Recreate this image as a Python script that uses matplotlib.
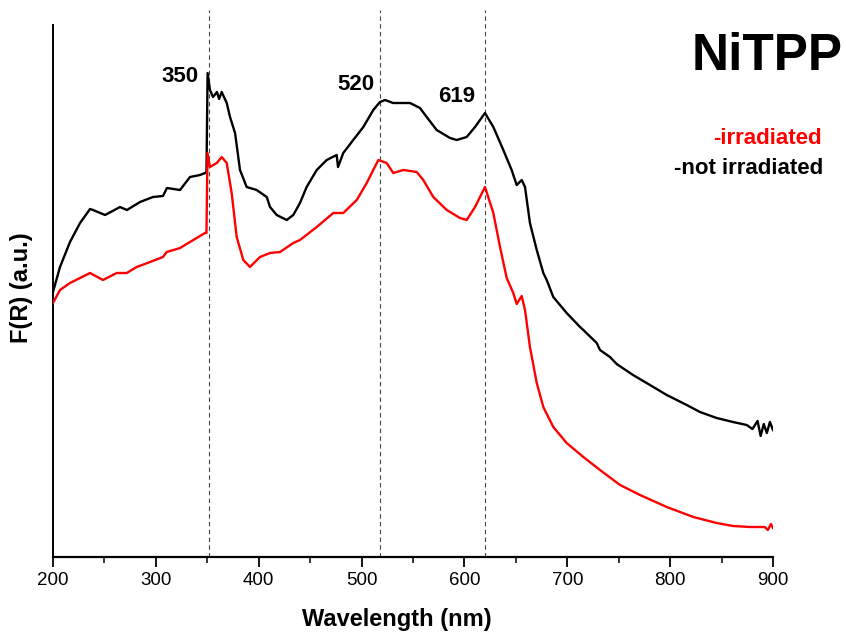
import matplotlib
matplotlib.use("Agg")
import matplotlib.pyplot as plt
from matplotlib.ticker import MultipleLocator

plt.rcParams['font.family'] = ['Liberation Sans', 'DejaVu Sans']

# wavelength (nm) and F(R) (a.u.)
wl_not = [200, 206.8, 216.5, 226.3, 236.0, 238.9, 250.6, 258.0, 265.1, 271.9,
          284.6, 297.2, 306.9, 310.8, 323.5, 333.2, 342.9, 347.8, 349.2, 350.3,
          352.6, 355.6, 359.4, 361.5, 364.0, 368.9, 372.1, 377.0, 381.8, 388.3,
          398.0, 407.8, 411.0, 417.5, 427.2, 433.6, 440.1, 446.6, 456.4, 466.1,
          475.8, 477.1, 482.2, 491.9, 501.7, 511.4, 517.9, 522.8, 530.6, 547.1,
          556.8, 563.3, 573.0, 586.0, 592.5, 602.2, 610.3, 620.0, 628.1, 637.8,
          645.9, 650.8, 655.7, 658.9, 663.7, 670.3, 676.7, 680.0, 686.4, 699.4,
          712.4, 715.6, 728.6, 731.8, 741.5, 748.0, 763.9, 780.4, 796.7, 816.1,
          829.0, 845.2, 861.1, 874.4, 880.0, 885.0, 888.0, 891.0, 894.0, 897.0,
          900.0]
fr_not = [265, 290, 315, 334, 348, 347, 342, 346, 350, 347,
          355, 360, 361, 369, 367, 380, 382, 384, 384, 484,
          467, 460, 465, 458, 465, 454, 440, 424, 387, 370,
          367, 360, 350, 342, 337, 342, 354, 370, 387, 397,
          402, 390, 404, 417, 430, 447, 455, 457, 454, 454,
          449, 440, 427, 419, 417, 420, 430, 444, 430, 407,
          387, 372, 377, 370, 334, 307, 284, 277, 260, 244,
          230, 227, 214, 207, 200, 193, 182, 172, 162, 152,
          145, 139, 135, 132, 128, 136, 121, 133, 124, 135,
          127]

wl_irr = [200, 206.8, 216.5, 226.3, 236.0, 248.6, 261.9, 271.7, 281.4, 294.3,
          306.9, 310.5, 323.5, 336.4, 347.8, 349.2, 350.2, 352.6, 359.2, 364.0,
          368.9, 373.7, 378.6, 385.0, 391.5, 401.2, 411.0, 420.7, 433.6, 440.1,
          456.4, 472.5, 482.2, 495.3, 505.0, 516.3, 524.4, 530.8, 540.6, 553.6,
          560.0, 569.7, 582.8, 595.7, 602.2, 610.3, 620.0, 628.1, 634.6, 641.1,
          647.5, 650.8, 655.7, 658.9, 663.7, 670.3, 676.7, 686.4, 699.4, 715.6,
          731.8, 751.3, 770.7, 796.7, 822.6, 845.2, 861.1, 877.6, 892.0, 895.0,
          898.0, 900.0]
fr_irr = [254, 267, 274, 279, 284, 277, 284, 284, 290, 295,
          300, 305, 309, 317, 324, 324, 404, 390, 394, 400,
          394, 364, 320, 297, 290, 300, 304, 305, 314, 317,
          330, 344, 344, 357, 374, 397, 394, 384, 387, 385,
          377, 360, 347, 339, 337, 350, 370, 344, 310, 279,
          264, 253, 261, 247, 210, 174, 150, 130, 114, 100,
          87, 72, 62, 50, 40, 34, 31, 30, 30, 27,
          33, 29]

peak_pos = [352, 518, 620]
peak_text = ['350', '520', '619']
peak_label_x = [323.5, 494.1, 592.8]
peak_label_y = [480, 472, 460]

fig = plt.figure(figsize=(8.46, 6.33), dpi=100)
ax = fig.add_axes([53 / 846, 76 / 633, 720 / 846, 547 / 633])

for p in peak_pos:
    ax.axvline(p, color='#444444', lw=0.8, ls=(0, (4, 3)), zorder=1)

ax.plot(wl_not, fr_not, color='black', lw=1.7, zorder=3)
ax.plot(wl_irr, fr_irr, color='#ff0000', lw=1.7, zorder=3)

for x, y, t in zip(peak_label_x, peak_label_y, peak_text):
    ax.text(x, y, t, ha='center', va='center', fontsize=16, fontweight='bold')

ax.set_xlim(200, 900)
ax.set_ylim(0, 547)
ax.xaxis.set_major_locator(MultipleLocator(100))
ax.xaxis.set_minor_locator(MultipleLocator(50))
ax.set_yticks([])
ax.tick_params(axis='x', which='major', direction='out', length=7, width=1.3,
               labelsize=13.5, pad=4)
ax.tick_params(axis='x', which='minor', direction='out', length=4, width=1.1)

for s in ['top', 'right']:
    ax.spines[s].set_visible(False)
ax.spines['left'].set_linewidth(1.4)
ax.spines['bottom'].set_linewidth(1.6)
ax.spines['left'].set_bounds(0, 532)

ax.set_xlabel('Wavelength (nm)', fontsize=17, fontweight='bold')
ax.xaxis.set_label_coords(0.478, -0.094)
ax.set_ylabel('F(R) (a.u.)', fontsize=17, fontweight='bold')
ax.yaxis.set_label_coords(-0.028, 0.492)

fig.text(843 / 846, 1 - 56 / 633, 'NiTPP', ha='right', va='center',
         fontsize=37, fontweight='bold')
fig.text(822 / 846, 1 - 138 / 633, '-irradiated', ha='right', va='center',
         fontsize=16, fontweight='bold', color='#ff0000')
fig.text(823 / 846, 1 - 168 / 633, '-not irradiated', ha='right', va='center',
         fontsize=16, fontweight='bold', color='black')

fig.savefig('out.png', dpi=100)
